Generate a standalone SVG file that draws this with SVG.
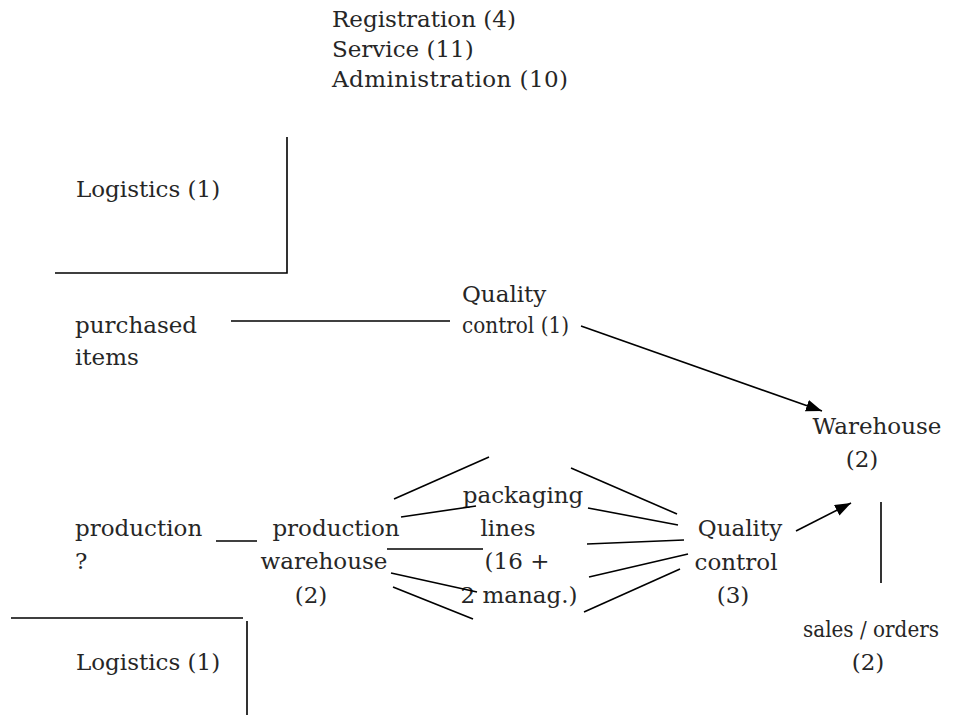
<svg xmlns="http://www.w3.org/2000/svg" width="973" height="715" viewBox="0 0 973 715">
  <style>
    text { font-family: "DejaVu Serif", "Liberation Serif", serif; font-size: 23px; fill: #262626; }
    .c { text-anchor: middle; }
    .ln { stroke: #000; stroke-width: 1.6; fill: none; }
  </style>
  <defs>
    <marker id="arrowL" viewBox="0 0 16 12" refX="16" refY="6" markerWidth="16" markerHeight="12" markerUnits="userSpaceOnUse" orient="auto">
      <path d="M0,0 L16,6 L0,12 z" fill="#000"/>
    </marker>
  </defs>

  <!-- Departments -->
  <g id="departments">
    <text x="332" y="27">Registration (4)</text>
    <text x="332" y="57">Service (11)</text>
    <text x="332" y="87" textLength="236" lengthAdjust="spacing">Administration (10)</text>
  </g>

  <g id="logistics-top">
    <text x="76" y="197">Logistics (1)</text>
    <path class="ln" d="M287,137 V273 H55"/>
  </g>

  <g id="purchased-items">
    <text x="75" y="333">purchased</text>
    <text x="75" y="365">items</text>
  </g>

  <g id="quality-control-1">
    <text x="462" y="302">Quality</text>
    <text x="462" y="333" textLength="107" lengthAdjust="spacingAndGlyphs">control (1)</text>
  </g>

  <g id="warehouse">
    <text class="c" x="877" y="434">Warehouse</text>
    <text class="c" x="862" y="467">(2)</text>
  </g>

  <g id="production">
    <text x="75" y="536">production</text>
    <text x="75" y="569">?</text>
  </g>

  <g id="production-warehouse">
    <text class="c" x="336" y="536">production</text>
    <text class="c" x="324" y="569">warehouse</text>
    <text class="c" x="311" y="603">(2)</text>
  </g>

  <g id="packaging-lines">
    <text class="c" x="523" y="503">packaging</text>
    <text class="c" x="508" y="536">lines</text>
    <text class="c" x="517" y="569">(16 +</text>
    <text class="c" x="519" y="603">2 manag.)</text>
  </g>

  <g id="quality-control-3">
    <text class="c" x="740" y="536">Quality</text>
    <text class="c" x="736" y="570">control</text>
    <text class="c" x="733" y="603">(3)</text>
  </g>

  <g id="sales-orders">
    <text class="c" x="871" y="637" textLength="136" lengthAdjust="spacingAndGlyphs">sales / orders</text>
    <text class="c" x="868" y="670">(2)</text>
  </g>

  <g id="logistics-bottom">
    <text x="76" y="670">Logistics (1)</text>
    <path class="ln" d="M11,618 H243 M247,621 V715"/>
  </g>

  <!-- Connectors -->
  <g id="connectors" class="ln">
    <line x1="231" y1="321" x2="450" y2="321"/>
    <line x1="581" y1="326" x2="822" y2="411" marker-end="url(#arrowL)"/>
    <line x1="216" y1="541" x2="257" y2="541"/>
    <!-- production warehouse to packaging lines -->
    <line x1="394" y1="499" x2="489" y2="457"/>
    <line x1="401" y1="517" x2="476" y2="506"/>
    <line x1="387" y1="549" x2="483" y2="549"/>
    <line x1="391" y1="573" x2="477" y2="592"/>
    <line x1="393" y1="587" x2="473" y2="619"/>
    <!-- packaging lines to quality control -->
    <line x1="571" y1="468" x2="677" y2="514"/>
    <line x1="588" y1="508" x2="678" y2="525"/>
    <line x1="587" y1="544" x2="684" y2="540"/>
    <line x1="589" y1="577" x2="688" y2="554"/>
    <line x1="584" y1="612" x2="680" y2="569"/>
    <line x1="796" y1="531" x2="851" y2="503" marker-end="url(#arrowL)"/>
    <line x1="881" y1="502" x2="881" y2="583"/>
  </g>
</svg>
